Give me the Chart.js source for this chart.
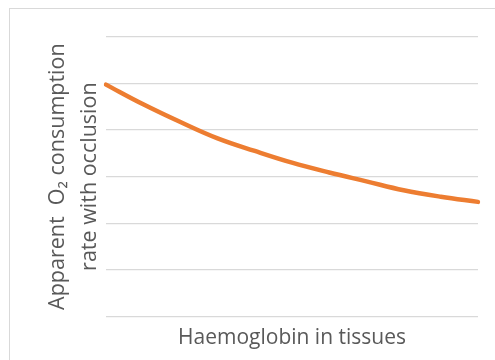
<!DOCTYPE html>
<html>
<head>
<meta charset="utf-8">
<script src="https://cdn.jsdelivr.net/npm/chart.js@4/dist/chart.umd.min.js"></script>
<style>
  html, body { margin: 0; padding: 0; background: #fff; overflow: hidden; }
  #wrap { position: relative; width: 495px; height: 360px; }
  #frame {
    position: absolute; left: 9px; top: 8px; width: 500px; height: 360px;
    border-left: 1px solid #d9d9d9; border-top: 1px solid #d9d9d9;
  }
  #wrap canvas { position: absolute; left: 0; top: 0; }
</style>
</head>
<body>
<div id="wrap">
  <div id="frame"></div>
  <canvas id="chart" width="495" height="360"></canvas>
</div>
<script>
// haemoglobin steps along the x axis (unlabelled)
const hbLevels = ["0", "1", "2", "3", "4", "5", "6", "7", "8", "9", "10"];
// apparent O2 consumption rate with occlusion
const o2Rate = [4.97, 4.55, 4.17, 3.82, 3.55, 3.30, 3.09, 2.90, 2.71, 2.57, 2.46];
// gridline levels (labels hidden)
const yTicks = [0, 1, 2, 3, 4, 5, 6];

const textColor = "#595959";
const gridColor = "#d9d9d9";
const fontFamily = "'Open Sans', 'Noto Sans', sans-serif";

new Chart(document.getElementById("chart"), {
    type: "line",
    data: {
        labels: hbLevels,
        datasets: [{
            data: o2Rate,
            borderColor: "#ed7d31",
            borderWidth: 4.5,
            borderCapStyle: "round",
            pointRadius: 0,
            tension: 0.4,
            fill: false
        }]
    },
    options: {
        responsive: false,
        animation: false,
        layout: {
            padding: { left: 41.5, right: 17, top: 36.5, bottom: 9 }
        },
        plugins: {
            legend: { display: false },
            tooltip: { enabled: false }
        },
        scales: {
            x: {
                offset: false,
                grid: { display: false, drawTicks: false },
                border: { display: false },
                ticks: { display: false },
                title: {
                    display: true,
                    text: "Haemoglobin in tissues",
                    color: textColor,
                    font: { family: fontFamily, size: 21, lineHeight: 1.2 },
                    padding: { top: 9, bottom: 0 }
                }
            },
            y: {
                min: yTicks[0],
                max: yTicks[yTicks.length - 1],
                grid: { color: gridColor, lineWidth: 1.3, drawTicks: false },
                border: { display: false },
                ticks: { display: false, stepSize: 1 },
                title: {
                    display: true,
                    text: ["Apparent  O\u2082 consumption", "rate with occlusion"],
                    color: textColor,
                    font: { family: fontFamily, size: 21.5, lineHeight: 1.5 },
                    padding: { top: 0, bottom: 0 }
                }
            }
        }
    }
});
</script>
</body>
</html>
